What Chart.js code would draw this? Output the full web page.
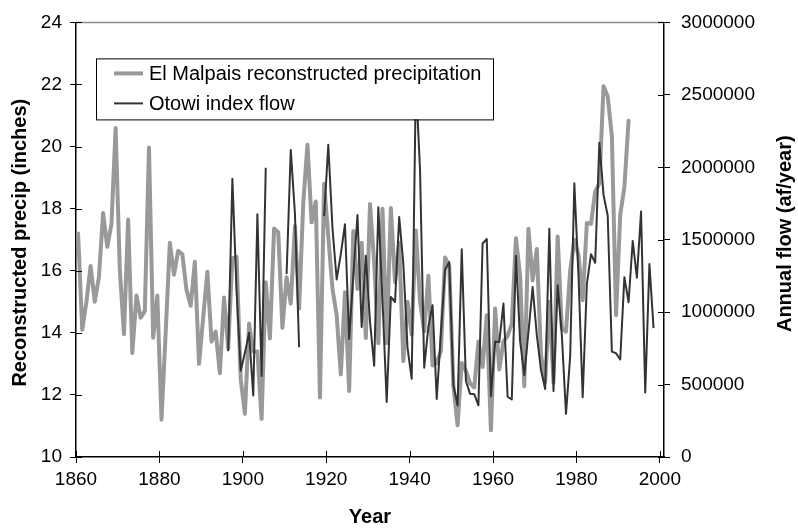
<!DOCTYPE html>
<html><head><meta charset="utf-8">
<script src="https://cdn.jsdelivr.net/npm/chart.js@4.4.0/dist/chart.umd.min.js"></script>
<style>html,body{margin:0;padding:0;background:#fff;}#wrap{width:798px;height:529px;}</style>
</head><body><div id="wrap"><canvas id="c" width="798" height="529"></canvas></div>
<script>
// ---- data ----
const precipYears = [1860,1861,1862,1863,1864,1865,1866,1867,1868,1869,1870,1871,1872,1873,1874,1875,1876,1877,1878,1879,
1880,1881,1882,1883,1884,1885,1886,1887,1888,1889,1890,1891,1892,1893,1894,1895,1896,1897,1898,1899,
1900,1901,1902,1903,1904,1905,1906,1907,1908,1909,1910,1911,1912,1913,1914,1915,1916,1917,1918,1919,
1920,1921,1922,1923,1924,1925,1926,1927,1928,1929,1930,1931,1932,1933,1934,1935,1936,1937,1938,1939,
1940,1941,1942,1943,1944,1945,1946,1947,1948,1949,1950,1951,1952,1953,1954,1955,1956,1957,1958,1959,
1960,1961,1962,1963,1964,1965,1966,1967,1968,1969,1970,1971,1972,1973,1974,1975,1976,1977,1978,1979,
1980,1981,1982,1983,1984,1985,1986,1987,1988,1989,1990,1991,1992];
const precipInches = [17.2,14.1,15.0,16.15,15.0,15.8,17.86,16.77,17.5,20.6,
16.06,13.96,17.65,13.35,15.2,14.49,14.7,19.97,13.84,15.2,
11.2,14.0,16.9,15.87,16.64,16.53,15.38,14.87,16.29,13.0,
14.5,15.97,13.72,14.04,12.7,15.14,13.5,16.4,16.45,12.5,
11.39,14.3,13.4,13.4,11.23,15.63,13.82,17.36,17.24,14.16,
15.79,14.94,17.44,14.78,18.2,20.06,17.56,18.23,11.92,18.8,
17.1,15.42,14.57,12.66,15.31,12.13,17.28,15.42,16.9,13.83,
18.15,16.27,13.67,18.0,13.67,18.02,15.63,16.9,13.09,15.0,
13.94,17.3,15.0,14.04,15.84,12.95,13.03,13.41,16.43,16.16,
12.29,11.02,13.03,12.77,12.37,12.24,13.72,12.9,14.57,10.86,
14.78,12.82,13.72,13.9,14.3,17.05,15.84,12.28,17.35,15.69,
16.7,13.3,12.4,15.0,12.4,17.1,14.15,14.04,16.0,17.0,
16.5,15.05,17.54,17.51,18.55,18.81,21.94,21.62,20.33,14.57,
17.8,18.7,20.83];
const flowYears = [1896,1897,1898,1899,1900,1901,1902,1903,1904,1905,1906,1907,1908,1909,
1910,1911,1912,1913,1914,1915,1916,1917,1918,1919,
1920,1921,1922,1923,1924,1925,1926,1927,1928,1929,1930,1931,1932,1933,1934,1935,1936,1937,1938,1939,
1940,1941,1942,1943,1944,1945,1946,1947,1948,1949,1950,1951,1952,1953,1954,1955,1956,1957,1958,1959,
1960,1961,1962,1963,1964,1965,1966,1967,1968,1969,1970,1971,1972,1973,1974,1975,1976,1977,1978,1979,
1980,1981,1982,1983,1984,1985,1986,1987,1988,1989,1990,1991,1992,1993,1994,1995,1996,1997,1998];
const flowAfPerYear = [730000,1920000,1150000,595000,720000,857000,425000,1675000,559000,1997000,null,null,null,null,
1263000,2120000,1680000,757000,null,null,null,null,null,1663000,
2155000,1580000,1225000,1400000,1607000,815000,1253000,1670000,897000,1389000,
934000,630000,1724000,1080000,380000,1105000,1070000,1657000,1332000,752000,
540000,2600000,1980000,616000,900000,1048000,400000,855000,1292000,1345000,
497000,355000,1434000,525000,436000,434000,357000,1474000,1505000,420000,
798000,793000,1059000,416000,397000,1389000,798000,565000,866000,1173000,
843000,600000,470000,1575000,455000,1186000,843000,298000,695000,1889000,
1250000,413000,1195000,1400000,1341000,2170000,1809000,1667000,727000,716000,
673000,1241000,1068000,1491000,1238000,1695000,445000,1332000,890000];
const xTicks = [1860,1880,1900,1920,1940,1960,1980,2000];
const leftTicks = [10,12,14,16,18,20,22,24];
const rightTicks = [0,500000,1000000,1500000,2000000,2500000,3000000];
const seriesNames = ['El Malpais reconstructed precipitation','Otowi index flow'];
const xTitle = 'Year';
const leftTitle = 'Reconstructed precip (inches)';
const rightTitle = 'Annual flow (af/year)';

// ---- styling ----
const FONT = 'Liberation Sans, Arial, sans-serif';
const GRAY = '#999999', DARK = '#333333';
// points sit at the centre of each year's slot (Excel category axis)
const toPts = (ys, vs) => ys.map((y, i) => ({x: y + 0.5, y: vs[i]}));

const decor = {
  id: 'decor',
  beforeDatasetsDraw(chart) {
    const {ctx, chartArea: a} = chart;
    ctx.save();
    ctx.strokeStyle = '#8c8c8c'; ctx.lineWidth = 1.5;
    ctx.beginPath(); ctx.moveTo(a.left, a.top); ctx.lineTo(a.right, a.top); ctx.stroke();
    ctx.restore();
  },
  afterDraw(chart) {
    const {ctx, chartArea: a, scales} = chart;
    ctx.save();
    ctx.strokeStyle = '#000'; ctx.lineWidth = 1;
    ctx.beginPath();
    xTicks.forEach(v => { const p = Math.round(scales.x.getPixelForValue(v)) + 0.5; ctx.moveTo(p, a.bottom - 6); ctx.lineTo(p, a.bottom); });
    leftTicks.forEach(v => { const p = Math.round(scales.y.getPixelForValue(v)) + 0.5; ctx.moveTo(a.left, p); ctx.lineTo(a.left + 6, p); });
    rightTicks.forEach(v => { const p = Math.round(scales.y2.getPixelForValue(v)) + 0.5; ctx.moveTo(a.right - 6, p); ctx.lineTo(a.right, p); });
    ctx.stroke();
    // legend box
    const lx = a.left + 20, ly = a.top + 36, lw = 397, lh = 61;
    ctx.fillStyle = '#fff'; ctx.fillRect(lx, ly, lw, lh);
    ctx.strokeStyle = '#000'; ctx.lineWidth = 1; ctx.strokeRect(lx + 0.5, ly + 0.5, lw, lh);
    const rows = [{c: GRAY, w: 4, t: seriesNames[0], y: ly + 15}, {c: DARK, w: 2, t: seriesNames[1], y: ly + 45}];
    ctx.font = '20px ' + FONT; ctx.textBaseline = 'middle'; ctx.textAlign = 'left';
    rows.forEach(r => {
      ctx.strokeStyle = r.c; ctx.lineWidth = r.w; ctx.lineCap = 'butt';
      ctx.beginPath(); ctx.moveTo(lx + 18, r.y); ctx.lineTo(lx + 47, r.y); ctx.stroke();
      ctx.fillStyle = '#000'; ctx.fillText(r.t, lx + 53, r.y + 1);
    });
    // axis titles
    ctx.font = 'bold 20px ' + FONT; ctx.fillStyle = '#000'; ctx.textAlign = 'center'; ctx.textBaseline = 'middle';
    ctx.fillText(xTitle, (a.left + a.right) / 2, 517);
    const cy = (a.top + a.bottom) / 2;
    ctx.save(); ctx.translate(20, cy + 3); ctx.rotate(-Math.PI / 2); ctx.fillText(leftTitle, 0, 0); ctx.restore();
    ctx.save(); ctx.translate(785, cy - 6); ctx.rotate(-Math.PI / 2); ctx.fillText(rightTitle, 0, 0); ctx.restore();
    ctx.restore();
  }
};

const tickFont = {family: FONT, size: 19};
new Chart(document.getElementById('c'), {
  type: 'line',
  data: {datasets: [
    {label: seriesNames[0], data: toPts(precipYears, precipInches), yAxisID: 'y', borderColor: GRAY, borderWidth: 4,
     pointRadius: 0, tension: 0, order: 2, borderJoinStyle: 'round', borderCapStyle: 'round'},
    {label: seriesNames[1], data: toPts(flowYears, flowAfPerYear), yAxisID: 'y2', borderColor: DARK, borderWidth: 2,
     pointRadius: 0, tension: 0, order: 1, spanGaps: false, borderJoinStyle: 'round'}
  ]},
  options: {
    responsive: false, animation: false, devicePixelRatio: 1,
    layout: {padding: {top: 17, left: 0, right: 0, bottom: 0}},
    plugins: {legend: {display: false}, tooltip: {enabled: false}},
    scales: {
      x: {type: 'linear', min: 1860, max: 2001,
        afterBuildTicks: s => { s.ticks = xTicks.map(v => ({value: v})); },
        afterFit: s => { s.height = 72; },
        ticks: {font: tickFont, color: '#000', padding: 5, maxRotation: 0, autoSkip: false, callback: v => String(v)},
        grid: {display: true, drawOnChartArea: false, tickLength: 6, color: '#000', lineWidth: 1},
        border: {color: '#000', width: 1.5}},
      y: {type: 'linear', position: 'left', min: 10, max: 24,
        afterBuildTicks: s => { s.ticks = leftTicks.map(v => ({value: v})); },
        afterFit: s => { s.width = 76; },
        ticks: {font: tickFont, color: '#000', padding: 8, callback: v => String(v)},
        grid: {display: true, drawOnChartArea: false, tickLength: 6, color: '#000', lineWidth: 1},
        border: {color: '#000', width: 1.5}},
      y2: {type: 'linear', position: 'right', min: 0, max: 3000000,
        afterBuildTicks: s => { s.ticks = rightTicks.map(v => ({value: v})); },
        afterFit: s => { s.width = 134; },
        ticks: {font: tickFont, color: '#000', padding: 11, callback: v => String(v)},
        grid: {display: true, drawOnChartArea: false, tickLength: 6, color: '#000', lineWidth: 1},
        border: {color: '#000', width: 1.5}}
    }
  },
  plugins: [decor]
});
</script></body></html>
